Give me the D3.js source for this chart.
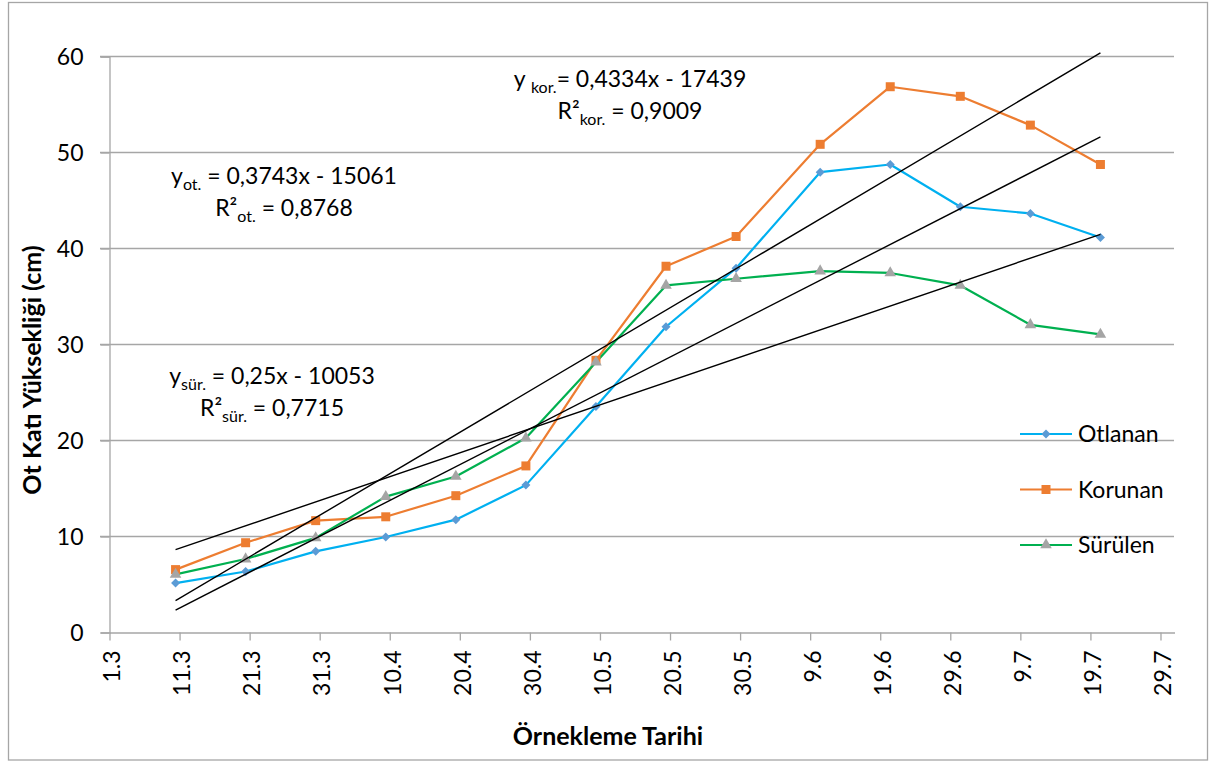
<!DOCTYPE html>
<html>
<head>
<meta charset="utf-8">
<script src="https://cdn.jsdelivr.net/npm/d3@7"></script>
<style>
  html, body { margin: 0; padding: 0; background: #fff; }
  svg { display: block; font-family: Lato, "Open Sans", sans-serif; }
</style>
</head>
<body>
<svg id="chart" width="1216" height="762"></svg>
<script>
// ---- data ----
const sampleDates = ["11.3","21.3","31.3","10.4","20.4","30.4","10.5","20.5","30.5","11.6","21.6","1.7","11.7","21.7"];
const otlanan = [5.1, 6.3, 8.4, 9.9, 11.7, 15.3, 23.5, 31.8, 37.9, 47.9, 48.7, 44.3, 43.6, 41.1];
const korunan = [6.5, 9.3, 11.6, 12.0, 14.2, 17.3, 28.3, 38.1, 41.2, 50.8, 56.8, 55.8, 52.8, 48.7];
const surulen = [6.0, 7.6, 9.8, 14.1, 16.2, 20.2, 28.1, 36.1, 36.8, 37.6, 37.4, 36.1, 32.0, 31.0];
const xTickLabels = ["1.3","11.3","21.3","31.3","10.4","20.4","30.4","10.5","20.5","30.5","9.6","19.6","29.6","9.7","19.7","29.7"];
const yTicks = [0, 10, 20, 30, 40, 50, 60];
const seriesNames = ["Otlanan", "Korunan", "Sürülen"];
const xDomainLabels = ["1.3", "31.7"];
const year = 2010;

const DAY = 86400000;
const parse = s => { const [d, m] = s.split(".").map(Number); return new Date(Date.UTC(year, m - 1, d)); };
// Excel-style date axis: ticks sit half a day after the point positions
const parseTick = s => new Date(parse(s).getTime() + DAY / 2);

const svg = d3.select("#chart");
const FONT = 23;
const GRID = "#a6a6a6";

// outer border
svg.append("rect").attr("x", 8.5).attr("y", 2.5).attr("width", 1199).attr("height", 757.5)
  .attr("fill", "none").attr("stroke", GRID).attr("stroke-width", 1.3);

const x = d3.scaleUtc().domain(xDomainLabels.map(parseTick)).range([109, 1174]);
const y = d3.scaleLinear().domain([0, 60]).range([632, 56]);

// gridlines
svg.append("g").selectAll("line").data(yTicks.filter(v => v > 0)).join("line")
  .attr("x1", 100).attr("x2", 1174).attr("y1", d => y(d) + 0.5).attr("y2", d => y(d) + 0.5)
  .attr("stroke", GRID).attr("stroke-width", 1.3);

// y axis
const yAxis = svg.append("g").attr("transform", "translate(109.5,0.5)")
  .call(d3.axisLeft(y).tickValues(yTicks).tickSize(9).tickPadding(17).tickFormat(d3.format("d")));
yAxis.select(".domain").attr("stroke", GRID).attr("stroke-width", 1.3);
yAxis.selectAll(".tick line").attr("stroke", GRID).attr("stroke-width", 1.3);
yAxis.selectAll("text").attr("font-size", FONT).attr("font-family", "Lato").attr("fill", "#000").attr("dy", "0.36em");

// x axis
const xAxis = svg.append("g").attr("transform", "translate(0.5,632.5)")
  .call(d3.axisBottom(x).tickValues(xTickLabels.map(parseTick)).tickSize(8).tickSizeOuter(0)
    .tickFormat(d => d.getUTCDate() + "." + (d.getUTCMonth() + 1)));
xAxis.select(".domain").attr("stroke", GRID).attr("stroke-width", 1.3);
xAxis.selectAll(".tick line").attr("stroke", GRID).attr("stroke-width", 1.3);
xAxis.selectAll("text").attr("font-size", FONT).attr("font-family", "Lato").attr("fill", "#000")
  .attr("text-anchor", "end").attr("transform", "rotate(-90)").attr("x", -18).attr("y", 2).attr("dy", "0.36em");

// markers
const diamond = { draw(ctx, size) { const r = Math.sqrt(size) / 2; ctx.moveTo(0, -r); ctx.lineTo(r, 0); ctx.lineTo(0, r); ctx.lineTo(-r, 0); ctx.closePath(); } };

// series
const dates = sampleDates.map(parse);
const series = [
  { name: seriesNames[0], values: otlanan, line: "#00B0F0", marker: "#5B9BD5", symbol: diamond, size: 81 },
  { name: seriesNames[1], values: korunan, line: "#ED7D31", marker: "#ED7D31", symbol: d3.symbolSquare, size: 81 },
  { name: seriesNames[2], values: surulen, line: "#00B050", marker: "#A5A5A5", symbol: d3.symbolTriangle, size: 58 }
];

const lineGen = d3.line().x((d, i) => x(dates[i])).y(d => y(d));

series.forEach(s => {
  svg.append("path").datum(s.values).attr("d", lineGen)
    .attr("fill", "none").attr("stroke", s.line).attr("stroke-width", 2.2).attr("stroke-linejoin", "round");
});
series.forEach(s => {
  svg.append("g").selectAll("path").data(s.values).join("path")
    .attr("d", d3.symbol().type(s.symbol).size(s.size))
    .attr("transform", (d, i) => `translate(${x(dates[i])},${y(d)})`)
    .attr("fill", s.marker);
});

// linear trendlines (least squares on days)
const t0 = dates[0].getTime();
const days = dates.map(d => (d.getTime() - t0) / DAY);
series.forEach(s => {
  const n = days.length;
  const mx = d3.mean(days), my = d3.mean(s.values);
  let sxy = 0, sxx = 0;
  for (let i = 0; i < n; i++) { sxy += (days[i] - mx) * (s.values[i] - my); sxx += (days[i] - mx) ** 2; }
  const b = sxy / sxx, a = my - b * mx;
  svg.append("line")
    .attr("x1", x(dates[0])).attr("y1", y(a + b * days[0]))
    .attr("x2", x(dates[n - 1])).attr("y2", y(a + b * days[n - 1]))
    .attr("stroke", "#000").attr("stroke-width", 1.4);
});

// equation labels
function eqLabel(cx, by, sub, rest, r2sub, r2rest, spaceBefore) {
  const t1 = svg.append("text").attr("x", cx).attr("y", by).attr("text-anchor", "middle").attr("font-size", FONT);
  t1.append("tspan").text("y" + (spaceBefore ? " " : ""));
  t1.append("tspan").attr("font-size", 16).attr("dy", 6).text(sub);
  t1.append("tspan").attr("dy", -6).text(rest);
  const t2 = svg.append("text").attr("x", cx).attr("y", by + 32).attr("text-anchor", "middle").attr("font-size", FONT);
  t2.append("tspan").text("R²");
  t2.append("tspan").attr("font-size", 16).attr("dy", 6).text(r2sub);
  t2.append("tspan").attr("dy", -6).text(r2rest);
}
eqLabel(630, 87, "kor.", "= 0,4334x - 17439", "kor.", " = 0,9009", true);
eqLabel(284, 184, "ot.", " = 0,3743x - 15061", "ot.", " = 0,8768", false);
eqLabel(272, 384, "sür.", " = 0,25x - 10053", "sür.", " = 0,7715", false);

// legend
const legend = svg.append("g");
series.forEach((s, i) => {
  const ly = 434 + i * 55.5;
  legend.append("line").attr("x1", 1020).attr("x2", 1072).attr("y1", ly).attr("y2", ly)
    .attr("stroke", s.line).attr("stroke-width", 2.2);
  legend.append("path").attr("d", d3.symbol().type(s.symbol).size(s.size))
    .attr("transform", `translate(1046,${ly})`).attr("fill", s.marker);
  legend.append("text").attr("x", 1078).attr("y", ly).attr("dy", "0.36em").attr("font-size", FONT).text(s.name);
});

// axis titles
svg.append("text").attr("x", 608).attr("y", 745).attr("text-anchor", "middle")
  .attr("font-size", 25).attr("font-weight", "bold").text("Örnekleme Tarihi");
svg.append("text").attr("transform", "translate(41,370) rotate(-90)").attr("text-anchor", "middle")
  .attr("font-size", 25).attr("font-weight", "bold").text("Ot Katı Yüksekliği (cm)");
</script>
</body>
</html>
